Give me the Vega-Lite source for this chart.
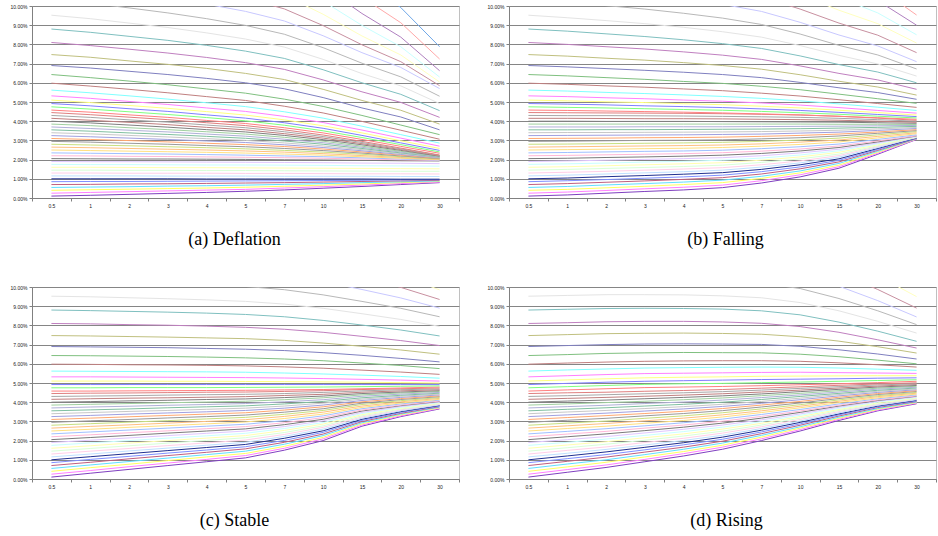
{
"$schema":"https://vega.github.io/schema/vega-lite/v6.json",
"background":"white",
"padding":{"left":9,"top":3,"right":0,"bottom":0},
"config":{
"view":{"stroke":"#c0c0c0","strokeWidth":1},
"axis":{"labelFont":"Liberation Sans","labelFontSize":5,"labelColor":"#222222","domainColor":"#808080","tickColor":"#808080","tickSize":3},
"title":{"font":"Liberation Serif","fontSize":18,"fontWeight":"normal","color":"#000000","orient":"bottom","offset":23},
"range":{"category":["#8040c0","#ff80ff","#ffff60","#60e0ff","#c06080","#8090ff","#203090","#c0e0ff","#ffd0e8","#d8ffd8","#ffffb0","#c8ffff","#e0c8ff","#7a7a7a","#ffb8d8","#a0c0ff","#ffe080","#ffc080","#c8e080","#9a9a9a","#ffa870","#a0a0e0","#c8c8c8","#80c0a0","#b0b0d8","#a0d0a0","#808080","#c08080","#a8a8a8","#e08080","#ff8080","#80ff80","#8080ff","#ffff80","#ff80ff","#80ffff","#c08080","#80c080","#8080c0","#c0c080","#c080c0","#80c0c0","#e4e4e4","#b8b8b8","#c8c8ff","#c890a0","#ffffc0","#c8ffff","#b080c0","#ffa8a8","#70a8e8"]}
},
"data":{"values":[
{"p":"a","s":0,"t00":0.10,"t01":0.14,"t02":0.19,"t03":0.24,"t04":0.29,"t05":0.35,"t06":0.42,"t07":0.51,"t08":0.60,"t09":0.70,"t10":0.80},
{"p":"a","s":1,"t00":0.25,"t01":0.29,"t02":0.33,"t03":0.37,"t04":0.41,"t05":0.45,"t06":0.52,"t07":0.59,"t08":0.67,"t09":0.75,"t10":0.83},
{"p":"a","s":2,"t00":0.40,"t01":0.43,"t02":0.46,"t03":0.49,"t04":0.52,"t05":0.56,"t06":0.61,"t07":0.67,"t08":0.73,"t09":0.80,"t10":0.86},
{"p":"a","s":3,"t00":0.55,"t01":0.57,"t02":0.59,"t03":0.62,"t04":0.64,"t05":0.67,"t06":0.71,"t07":0.75,"t08":0.80,"t09":0.84,"t10":0.89},
{"p":"a","s":4,"t00":0.70,"t01":0.71,"t02":0.73,"t03":0.74,"t04":0.76,"t05":0.78,"t06":0.80,"t07":0.83,"t08":0.86,"t09":0.89,"t10":0.92},
{"p":"a","s":5,"t00":0.85,"t01":0.86,"t02":0.86,"t03":0.87,"t04":0.88,"t05":0.89,"t06":0.90,"t07":0.91,"t08":0.92,"t09":0.94,"t10":0.95},
{"p":"a","s":6,"t00":1.00,"t01":1.00,"t02":1.00,"t03":1.00,"t04":0.99,"t05":0.99,"t06":0.99,"t07":0.99,"t08":0.99,"t09":0.98,"t10":0.98},
{"p":"a","s":7,"t00":1.15,"t01":1.15,"t02":1.15,"t03":1.14,"t04":1.14,"t05":1.14,"t06":1.13,"t07":1.13,"t08":1.13,"t09":1.12,"t10":1.12},
{"p":"a","s":8,"t00":1.30,"t01":1.30,"t02":1.29,"t03":1.29,"t04":1.29,"t05":1.28,"t06":1.28,"t07":1.27,"t08":1.26,"t09":1.26,"t10":1.25},
{"p":"a","s":9,"t00":1.45,"t01":1.45,"t02":1.44,"t03":1.44,"t04":1.43,"t05":1.43,"t06":1.42,"t07":1.41,"t08":1.40,"t09":1.39,"t10":1.39},
{"p":"a","s":10,"t00":1.60,"t01":1.60,"t02":1.59,"t03":1.58,"t04":1.58,"t05":1.57,"t06":1.56,"t07":1.55,"t08":1.54,"t09":1.53,"t10":1.52},
{"p":"a","s":11,"t00":1.75,"t01":1.74,"t02":1.74,"t03":1.73,"t04":1.72,"t05":1.72,"t06":1.71,"t07":1.70,"t08":1.68,"t09":1.67,"t10":1.66},
{"p":"a","s":12,"t00":1.90,"t01":1.89,"t02":1.89,"t03":1.88,"t04":1.87,"t05":1.86,"t06":1.85,"t07":1.84,"t08":1.82,"t09":1.81,"t10":1.79},
{"p":"a","s":13,"t00":2.05,"t01":2.04,"t02":2.03,"t03":2.03,"t04":2.02,"t05":2.01,"t06":1.99,"t07":1.98,"t08":1.96,"t09":1.94,"t10":1.93},
{"p":"a","s":14,"t00":2.20,"t01":2.19,"t02":2.17,"t03":2.16,"t04":2.14,"t05":2.12,"t06":2.10,"t07":2.07,"t08":2.03,"t09":1.99,"t10":1.95},
{"p":"a","s":15,"t00":2.35,"t01":2.33,"t02":2.31,"t03":2.29,"t04":2.26,"t05":2.23,"t06":2.19,"t07":2.15,"t08":2.09,"t09":2.03,"t10":1.97},
{"p":"a","s":16,"t00":2.50,"t01":2.47,"t02":2.44,"t03":2.41,"t04":2.38,"t05":2.34,"t06":2.29,"t07":2.23,"t08":2.15,"t09":2.07,"t10":1.99},
{"p":"a","s":17,"t00":2.65,"t01":2.62,"t02":2.58,"t03":2.54,"t04":2.50,"t05":2.45,"t06":2.39,"t07":2.31,"t08":2.21,"t09":2.11,"t10":2.01},
{"p":"a","s":18,"t00":2.80,"t01":2.76,"t02":2.72,"t03":2.67,"t04":2.62,"t05":2.56,"t06":2.48,"t07":2.39,"t08":2.28,"t09":2.15,"t10":2.03},
{"p":"a","s":19,"t00":2.95,"t01":2.91,"t02":2.85,"t03":2.80,"t04":2.73,"t05":2.67,"t06":2.58,"t07":2.47,"t08":2.34,"t09":2.19,"t10":2.05},
{"p":"a","s":20,"t00":3.10,"t01":3.05,"t02":2.99,"t03":2.92,"t04":2.85,"t05":2.78,"t06":2.68,"t07":2.55,"t08":2.40,"t09":2.23,"t10":2.07},
{"p":"a","s":21,"t00":3.25,"t01":3.19,"t02":3.12,"t03":3.05,"t04":2.97,"t05":2.89,"t06":2.77,"t07":2.63,"t08":2.46,"t09":2.27,"t10":2.09},
{"p":"a","s":22,"t00":3.40,"t01":3.34,"t02":3.26,"t03":3.18,"t04":3.09,"t05":3.00,"t06":2.87,"t07":2.71,"t08":2.52,"t09":2.31,"t10":2.11},
{"p":"a","s":23,"t00":3.55,"t01":3.48,"t02":3.39,"t03":3.31,"t04":3.21,"t05":3.11,"t06":2.97,"t07":2.80,"t08":2.58,"t09":2.35,"t10":2.13},
{"p":"a","s":24,"t00":3.70,"t01":3.62,"t02":3.53,"t03":3.44,"t04":3.33,"t05":3.22,"t06":3.06,"t07":2.88,"t08":2.64,"t09":2.39,"t10":2.15},
{"p":"a","s":25,"t00":3.85,"t01":3.77,"t02":3.66,"t03":3.56,"t04":3.45,"t05":3.33,"t06":3.16,"t07":2.96,"t08":2.70,"t09":2.43,"t10":2.17},
{"p":"a","s":26,"t00":4.00,"t01":3.91,"t02":3.80,"t03":3.69,"t04":3.56,"t05":3.44,"t06":3.26,"t07":3.04,"t08":2.77,"t09":2.48,"t10":2.18},
{"p":"a","s":27,"t00":4.15,"t01":4.05,"t02":3.94,"t03":3.82,"t04":3.68,"t05":3.55,"t06":3.35,"t07":3.12,"t08":2.83,"t09":2.52,"t10":2.20},
{"p":"a","s":28,"t00":4.30,"t01":4.20,"t02":4.07,"t03":3.95,"t04":3.80,"t05":3.66,"t06":3.45,"t07":3.20,"t08":2.89,"t09":2.56,"t10":2.22},
{"p":"a","s":29,"t00":4.45,"t01":4.34,"t02":4.21,"t03":4.08,"t04":3.92,"t05":3.77,"t06":3.55,"t07":3.28,"t08":2.95,"t09":2.60,"t10":2.24},
{"p":"a","s":30,"t00":4.58,"t01":4.47,"t02":4.33,"t03":4.20,"t04":4.04,"t05":3.88,"t06":3.66,"t07":3.39,"t08":3.05,"t09":2.69,"t10":2.33},
{"p":"a","s":31,"t00":4.75,"t01":4.63,"t02":4.49,"t03":4.35,"t04":4.19,"t05":4.02,"t06":3.79,"t07":3.50,"t08":3.15,"t09":2.78,"t10":2.40},
{"p":"a","s":32,"t00":4.92,"t01":4.80,"t02":4.65,"t03":4.51,"t04":4.33,"t05":4.16,"t06":3.92,"t07":3.63,"t08":3.26,"t09":2.87,"t10":2.48},
{"p":"a","s":33,"t00":5.10,"t01":4.97,"t02":4.82,"t03":4.67,"t04":4.50,"t05":4.32,"t06":4.07,"t07":3.76,"t08":3.39,"t09":2.98,"t10":2.58},
{"p":"a","s":34,"t00":5.32,"t01":5.19,"t02":5.03,"t03":4.87,"t04":4.69,"t05":4.51,"t06":4.25,"t07":3.93,"t08":3.54,"t09":3.12,"t10":2.70},
{"p":"a","s":35,"t00":5.62,"t01":5.48,"t02":5.32,"t03":5.15,"t04":4.96,"t05":4.76,"t06":4.49,"t07":4.16,"t08":3.74,"t09":3.30,"t10":2.86},
{"p":"a","s":36,"t00":5.98,"t01":5.83,"t02":5.66,"t03":5.48,"t04":5.28,"t05":5.08,"t06":4.78,"t07":4.43,"t08":3.99,"t09":3.53,"t10":3.06},
{"p":"a","s":37,"t00":6.43,"t01":6.27,"t02":6.09,"t03":5.90,"t04":5.68,"t05":5.46,"t06":5.15,"t07":4.77,"t08":4.30,"t09":3.80,"t10":3.30},
{"p":"a","s":38,"t00":6.90,"t01":6.77,"t02":6.60,"t03":6.43,"t04":6.23,"t05":6.00,"t06":5.69,"t07":5.23,"t08":4.69,"t09":4.22,"t10":3.55},
{"p":"a","s":39,"t00":7.47,"t01":7.33,"t02":7.14,"t03":6.96,"t04":6.75,"t05":6.49,"t06":6.17,"t07":5.66,"t08":5.08,"t09":4.57,"t10":3.85},
{"p":"a","s":40,"t00":8.10,"t01":7.94,"t02":7.75,"t03":7.55,"t04":7.32,"t05":7.05,"t06":6.70,"t07":6.15,"t08":5.53,"t09":4.98,"t10":4.20},
{"p":"a","s":41,"t00":8.80,"t01":8.63,"t02":8.42,"t03":8.21,"t04":7.95,"t05":7.65,"t06":7.27,"t07":6.68,"t08":6.00,"t09":5.40,"t10":4.55},
{"p":"a","s":42,"t00":9.52,"t01":9.34,"t02":9.11,"t03":8.88,"t04":8.60,"t05":8.28,"t06":7.86,"t07":7.22,"t08":6.48,"t09":5.84,"t10":4.92},
{"p":"a","s":43,"t00":10.35,"t01":10.15,"t02":9.90,"t03":9.64,"t04":9.34,"t05":8.99,"t06":8.53,"t07":7.83,"t08":7.02,"t09":6.31,"t10":5.30},
{"p":"a","s":44,"t00":11.20,"t01":10.98,"t02":10.71,"t03":10.43,"t04":10.10,"t05":9.72,"t06":9.22,"t07":8.45,"t08":7.57,"t09":6.80,"t10":5.70},
{"p":"a","s":45,"t00":12.10,"t01":11.85,"t02":11.54,"t03":11.23,"t04":10.85,"t05":10.41,"t06":9.85,"t07":8.98,"t08":7.98,"t09":7.10,"t10":5.85},
{"p":"a","s":46,"t00":13.10,"t01":12.82,"t02":12.46,"t03":12.11,"t04":11.69,"t05":11.19,"t06":10.56,"t07":9.57,"t08":8.44,"t09":7.45,"t10":6.04},
{"p":"a","s":47,"t00":14.20,"t01":13.88,"t02":13.49,"t03":13.09,"t04":12.62,"t05":12.07,"t06":11.36,"t07":10.25,"t08":8.99,"t09":7.88,"t10":6.30},
{"p":"a","s":48,"t00":15.40,"t01":15.05,"t02":14.61,"t03":14.17,"t04":13.65,"t05":13.03,"t06":12.24,"t07":11.02,"t08":9.61,"t09":8.38,"t10":6.63},
{"p":"a","s":49,"t00":16.70,"t01":16.32,"t02":15.85,"t03":15.38,"t04":14.81,"t05":14.15,"t06":13.29,"t07":11.97,"t08":10.46,"t09":9.13,"t10":7.24},
{"p":"a","s":50,"t00":18.10,"t01":17.69,"t02":17.18,"t03":16.67,"t04":16.06,"t05":15.34,"t06":14.42,"t07":12.99,"t08":11.36,"t09":9.92,"t10":7.88},
{"p":"b","s":0,"t00":0.10,"t01":0.16,"t02":0.25,"t03":0.34,"t04":0.42,"t05":0.54,"t06":0.78,"t07":1.10,"t08":1.55,"t09":2.28,"t10":3.05},
{"p":"b","s":1,"t00":0.25,"t01":0.31,"t02":0.39,"t03":0.48,"t04":0.56,"t05":0.67,"t06":0.90,"t07":1.21,"t08":1.63,"t09":2.33,"t10":3.06},
{"p":"b","s":2,"t00":0.40,"t01":0.45,"t02":0.53,"t03":0.61,"t04":0.70,"t05":0.80,"t06":1.02,"t07":1.31,"t08":1.71,"t09":2.38,"t10":3.08},
{"p":"b","s":3,"t00":0.55,"t01":0.60,"t02":0.68,"t03":0.75,"t04":0.83,"t05":0.93,"t06":1.13,"t07":1.41,"t08":1.80,"t09":2.43,"t10":3.09},
{"p":"b","s":4,"t00":0.70,"t01":0.75,"t02":0.82,"t03":0.89,"t04":0.97,"t05":1.06,"t06":1.25,"t07":1.52,"t08":1.88,"t09":2.48,"t10":3.10},
{"p":"b","s":5,"t00":0.85,"t01":0.90,"t02":0.96,"t03":1.03,"t04":1.10,"t05":1.19,"t06":1.37,"t07":1.62,"t08":1.96,"t09":2.53,"t10":3.12},
{"p":"b","s":6,"t00":1.00,"t01":1.04,"t02":1.11,"t03":1.17,"t04":1.24,"t05":1.32,"t06":1.49,"t07":1.73,"t08":2.04,"t09":2.58,"t10":3.13},
{"p":"b","s":7,"t00":1.15,"t01":1.19,"t02":1.25,"t03":1.31,"t04":1.37,"t05":1.45,"t06":1.61,"t07":1.83,"t08":2.13,"t09":2.63,"t10":3.15},
{"p":"b","s":8,"t00":1.30,"t01":1.34,"t02":1.39,"t03":1.45,"t04":1.51,"t05":1.58,"t06":1.73,"t07":1.93,"t08":2.21,"t09":2.68,"t10":3.16},
{"p":"b","s":9,"t00":1.45,"t01":1.49,"t02":1.54,"t03":1.59,"t04":1.64,"t05":1.71,"t06":1.85,"t07":2.04,"t08":2.29,"t09":2.72,"t10":3.17},
{"p":"b","s":10,"t00":1.60,"t01":1.63,"t02":1.68,"t03":1.73,"t04":1.78,"t05":1.84,"t06":1.97,"t07":2.14,"t08":2.38,"t09":2.77,"t10":3.19},
{"p":"b","s":11,"t00":1.75,"t01":1.78,"t02":1.82,"t03":1.87,"t04":1.91,"t05":1.97,"t06":2.08,"t07":2.24,"t08":2.46,"t09":2.82,"t10":3.20},
{"p":"b","s":12,"t00":1.90,"t01":1.93,"t02":1.97,"t03":2.01,"t04":2.05,"t05":2.10,"t06":2.20,"t07":2.35,"t08":2.54,"t09":2.87,"t10":3.21},
{"p":"b","s":13,"t00":2.05,"t01":2.07,"t02":2.11,"t03":2.14,"t04":2.18,"t05":2.23,"t06":2.32,"t07":2.45,"t08":2.63,"t09":2.92,"t10":3.23},
{"p":"b","s":14,"t00":2.20,"t01":2.22,"t02":2.25,"t03":2.28,"t04":2.31,"t05":2.36,"t06":2.44,"t07":2.55,"t08":2.71,"t09":2.97,"t10":3.24},
{"p":"b","s":15,"t00":2.35,"t01":2.37,"t02":2.40,"t03":2.43,"t04":2.45,"t05":2.49,"t06":2.57,"t07":2.67,"t08":2.81,"t09":3.05,"t10":3.29},
{"p":"b","s":16,"t00":2.50,"t01":2.52,"t02":2.54,"t03":2.57,"t04":2.59,"t05":2.63,"t06":2.70,"t07":2.79,"t08":2.92,"t09":3.13,"t10":3.35},
{"p":"b","s":17,"t00":2.65,"t01":2.67,"t02":2.69,"t03":2.71,"t04":2.73,"t05":2.76,"t06":2.82,"t07":2.91,"t08":3.02,"t09":3.21,"t10":3.40},
{"p":"b","s":18,"t00":2.80,"t01":2.81,"t02":2.83,"t03":2.85,"t04":2.87,"t05":2.90,"t06":2.95,"t07":3.02,"t08":3.12,"t09":3.29,"t10":3.46},
{"p":"b","s":19,"t00":2.95,"t01":2.96,"t02":2.98,"t03":3.00,"t04":3.01,"t05":3.03,"t06":3.08,"t07":3.14,"t08":3.23,"t09":3.37,"t10":3.51},
{"p":"b","s":20,"t00":3.10,"t01":3.11,"t02":3.12,"t03":3.14,"t04":3.15,"t05":3.17,"t06":3.21,"t07":3.26,"t08":3.33,"t09":3.44,"t10":3.56},
{"p":"b","s":21,"t00":3.25,"t01":3.26,"t02":3.27,"t03":3.28,"t04":3.29,"t05":3.31,"t06":3.33,"t07":3.38,"t08":3.43,"t09":3.52,"t10":3.62},
{"p":"b","s":22,"t00":3.40,"t01":3.41,"t02":3.41,"t03":3.42,"t04":3.43,"t05":3.44,"t06":3.46,"t07":3.49,"t08":3.53,"t09":3.60,"t10":3.67},
{"p":"b","s":23,"t00":3.55,"t01":3.55,"t02":3.56,"t03":3.56,"t04":3.57,"t05":3.58,"t06":3.59,"t07":3.61,"t08":3.64,"t09":3.68,"t10":3.73},
{"p":"b","s":24,"t00":3.70,"t01":3.70,"t02":3.70,"t03":3.71,"t04":3.71,"t05":3.71,"t06":3.72,"t07":3.73,"t08":3.74,"t09":3.76,"t10":3.78},
{"p":"b","s":25,"t00":3.85,"t01":3.85,"t02":3.85,"t03":3.85,"t04":3.85,"t05":3.85,"t06":3.85,"t07":3.85,"t08":3.84,"t09":3.84,"t10":3.83},
{"p":"b","s":26,"t00":4.00,"t01":4.00,"t02":3.99,"t03":3.99,"t04":3.99,"t05":3.98,"t06":3.97,"t07":3.96,"t08":3.95,"t09":3.92,"t10":3.89},
{"p":"b","s":27,"t00":4.15,"t01":4.15,"t02":4.14,"t03":4.13,"t04":4.13,"t05":4.12,"t06":4.10,"t07":4.08,"t08":4.05,"t09":4.00,"t10":3.94},
{"p":"b","s":28,"t00":4.30,"t01":4.29,"t02":4.29,"t03":4.28,"t04":4.27,"t05":4.25,"t06":4.23,"t07":4.20,"t08":4.15,"t09":4.08,"t10":4.00},
{"p":"b","s":29,"t00":4.45,"t01":4.44,"t02":4.43,"t03":4.42,"t04":4.41,"t05":4.39,"t06":4.36,"t07":4.32,"t08":4.26,"t09":4.16,"t10":4.05},
{"p":"b","s":30,"t00":4.58,"t01":4.56,"t02":4.53,"t03":4.50,"t04":4.47,"t05":4.43,"t06":4.38,"t07":4.33,"t08":4.25,"t09":4.18,"t10":4.10},
{"p":"b","s":31,"t00":4.75,"t01":4.72,"t02":4.69,"t03":4.65,"t04":4.61,"t05":4.57,"t06":4.51,"t07":4.44,"t08":4.36,"t09":4.26,"t10":4.17},
{"p":"b","s":32,"t00":4.92,"t01":4.89,"t02":4.85,"t03":4.80,"t04":4.76,"t05":4.71,"t06":4.64,"t07":4.56,"t08":4.46,"t09":4.35,"t10":4.24},
{"p":"b","s":33,"t00":5.10,"t01":5.06,"t02":5.01,"t03":4.97,"t04":4.91,"t05":4.86,"t06":4.78,"t07":4.69,"t08":4.57,"t09":4.45,"t10":4.32},
{"p":"b","s":34,"t00":5.32,"t01":5.28,"t02":5.22,"t03":5.17,"t04":5.10,"t05":5.04,"t06":4.95,"t07":4.84,"t08":4.71,"t09":4.56,"t10":4.42},
{"p":"b","s":35,"t00":5.62,"t01":5.57,"t02":5.50,"t03":5.44,"t04":5.37,"t05":5.29,"t06":5.19,"t07":5.06,"t08":4.90,"t09":4.73,"t10":4.56},
{"p":"b","s":36,"t00":5.98,"t01":5.92,"t02":5.84,"t03":5.77,"t04":5.68,"t05":5.59,"t06":5.46,"t07":5.31,"t08":5.12,"t09":4.92,"t10":4.72},
{"p":"b","s":37,"t00":6.43,"t01":6.36,"t02":6.27,"t03":6.18,"t04":6.07,"t05":5.97,"t06":5.82,"t07":5.64,"t08":5.41,"t09":5.17,"t10":4.93},
{"p":"b","s":38,"t00":6.90,"t01":6.83,"t02":6.74,"t03":6.65,"t04":6.55,"t05":6.43,"t06":6.27,"t07":6.02,"t08":5.74,"t09":5.49,"t10":5.14},
{"p":"b","s":39,"t00":7.47,"t01":7.39,"t02":7.28,"t03":7.18,"t04":7.05,"t05":6.90,"t06":6.71,"t07":6.42,"t08":6.08,"t09":5.78,"t10":5.36},
{"p":"b","s":40,"t00":8.10,"t01":8.00,"t02":7.88,"t03":7.76,"t04":7.61,"t05":7.44,"t06":7.22,"t07":6.88,"t08":6.49,"t09":6.15,"t10":5.66},
{"p":"b","s":41,"t00":8.80,"t01":8.69,"t02":8.55,"t03":8.41,"t04":8.24,"t05":8.04,"t06":7.79,"t07":7.40,"t08":6.95,"t09":6.56,"t10":6.00},
{"p":"b","s":42,"t00":9.52,"t01":9.39,"t02":9.24,"t03":9.08,"t04":8.89,"t05":8.66,"t06":8.38,"t07":7.94,"t08":7.43,"t09":6.98,"t10":6.35},
{"p":"b","s":43,"t00":10.35,"t01":10.21,"t02":10.02,"t03":9.84,"t04":9.62,"t05":9.37,"t06":9.04,"t07":8.54,"t08":7.95,"t09":7.45,"t10":6.72},
{"p":"b","s":44,"t00":11.20,"t01":11.04,"t02":10.83,"t03":10.63,"t04":10.38,"t05":10.09,"t06":9.72,"t07":9.15,"t08":8.49,"t09":7.92,"t10":7.10},
{"p":"b","s":45,"t00":12.10,"t01":11.92,"t02":11.69,"t03":11.47,"t04":11.19,"t05":10.88,"t06":10.47,"t07":9.84,"t08":9.11,"t09":8.48,"t10":7.57},
{"p":"b","s":46,"t00":13.10,"t01":12.90,"t02":12.65,"t03":12.40,"t04":12.09,"t05":11.74,"t06":11.29,"t07":10.59,"t08":9.78,"t09":9.08,"t10":8.07},
{"p":"b","s":47,"t00":14.20,"t01":13.97,"t02":13.69,"t03":13.40,"t04":13.06,"t05":12.66,"t06":12.15,"t07":11.35,"t08":10.44,"t09":9.64,"t10":8.50},
{"p":"b","s":48,"t00":15.40,"t01":15.14,"t02":14.82,"t03":14.50,"t04":14.12,"t05":13.67,"t06":13.10,"t07":12.20,"t08":11.18,"t09":10.28,"t10":9.00},
{"p":"b","s":49,"t00":16.70,"t01":16.41,"t02":16.06,"t03":15.70,"t04":15.27,"t05":14.76,"t06":14.12,"t07":13.12,"t08":11.97,"t09":10.96,"t10":9.53},
{"p":"c","s":0,"t00":0.10,"t01":0.30,"t02":0.50,"t03":0.70,"t04":0.90,"t05":1.10,"t06":1.50,"t07":2.00,"t08":2.75,"t09":3.25,"t10":3.65},
{"p":"c","s":1,"t00":0.25,"t01":0.44,"t02":0.64,"t03":0.83,"t04":1.02,"t05":1.22,"t06":1.60,"t07":2.09,"t08":2.81,"t09":3.29,"t10":3.68},
{"p":"c","s":2,"t00":0.40,"t01":0.59,"t02":0.77,"t03":0.96,"t04":1.15,"t05":1.33,"t06":1.70,"t07":2.17,"t08":2.87,"t09":3.34,"t10":3.71},
{"p":"c","s":3,"t00":0.55,"t01":0.73,"t02":0.91,"t03":1.09,"t04":1.27,"t05":1.45,"t06":1.81,"t07":2.26,"t08":2.93,"t09":3.38,"t10":3.74},
{"p":"c","s":4,"t00":0.70,"t01":0.87,"t02":1.05,"t03":1.22,"t04":1.39,"t05":1.57,"t06":1.91,"t07":2.34,"t08":2.99,"t09":3.42,"t10":3.77},
{"p":"c","s":5,"t00":0.85,"t01":1.02,"t02":1.18,"t03":1.35,"t04":1.51,"t05":1.68,"t06":2.01,"t07":2.43,"t08":3.05,"t09":3.47,"t10":3.80},
{"p":"c","s":6,"t00":1.00,"t01":1.16,"t02":1.32,"t03":1.48,"t04":1.64,"t05":1.80,"t06":2.12,"t07":2.51,"t08":3.11,"t09":3.51,"t10":3.83},
{"p":"c","s":7,"t00":1.15,"t01":1.30,"t02":1.46,"t03":1.61,"t04":1.76,"t05":1.91,"t06":2.22,"t07":2.60,"t08":3.17,"t09":3.55,"t10":3.86},
{"p":"c","s":8,"t00":1.30,"t01":1.45,"t02":1.59,"t03":1.74,"t04":1.88,"t05":2.03,"t06":2.32,"t07":2.69,"t08":3.23,"t09":3.60,"t10":3.89},
{"p":"c","s":9,"t00":1.45,"t01":1.59,"t02":1.73,"t03":1.87,"t04":2.01,"t05":2.15,"t06":2.42,"t07":2.77,"t08":3.29,"t09":3.64,"t10":3.92},
{"p":"c","s":10,"t00":1.60,"t01":1.73,"t02":1.87,"t03":2.00,"t04":2.13,"t05":2.26,"t06":2.53,"t07":2.86,"t08":3.35,"t09":3.69,"t10":3.95},
{"p":"c","s":11,"t00":1.75,"t01":1.88,"t02":2.00,"t03":2.13,"t04":2.25,"t05":2.38,"t06":2.63,"t07":2.94,"t08":3.41,"t09":3.73,"t10":3.98},
{"p":"c","s":12,"t00":1.90,"t01":2.02,"t02":2.14,"t03":2.26,"t04":2.38,"t05":2.50,"t06":2.73,"t07":3.03,"t08":3.47,"t09":3.77,"t10":4.01},
{"p":"c","s":13,"t00":2.05,"t01":2.16,"t02":2.27,"t03":2.39,"t04":2.50,"t05":2.61,"t06":2.83,"t07":3.11,"t08":3.54,"t09":3.82,"t10":4.04},
{"p":"c","s":14,"t00":2.20,"t01":2.30,"t02":2.41,"t03":2.51,"t04":2.62,"t05":2.73,"t06":2.93,"t07":3.20,"t08":3.59,"t09":3.85,"t10":4.06},
{"p":"c","s":15,"t00":2.35,"t01":2.45,"t02":2.55,"t03":2.65,"t04":2.75,"t05":2.85,"t06":3.04,"t07":3.29,"t08":3.66,"t09":3.91,"t10":4.11},
{"p":"c","s":16,"t00":2.50,"t01":2.59,"t02":2.69,"t03":2.78,"t04":2.87,"t05":2.97,"t06":3.15,"t07":3.38,"t08":3.73,"t09":3.96,"t10":4.15},
{"p":"c","s":17,"t00":2.65,"t01":2.74,"t02":2.82,"t03":2.91,"t04":3.00,"t05":3.09,"t06":3.26,"t07":3.48,"t08":3.80,"t09":4.02,"t10":4.20},
{"p":"c","s":18,"t00":2.80,"t01":2.88,"t02":2.96,"t03":3.04,"t04":3.13,"t05":3.21,"t06":3.37,"t07":3.57,"t08":3.88,"t09":4.08,"t10":4.24},
{"p":"c","s":19,"t00":2.95,"t01":3.03,"t02":3.10,"t03":3.18,"t04":3.25,"t05":3.33,"t06":3.48,"t07":3.66,"t08":3.95,"t09":4.14,"t10":4.29},
{"p":"c","s":20,"t00":3.10,"t01":3.17,"t02":3.24,"t03":3.31,"t04":3.38,"t05":3.45,"t06":3.59,"t07":3.76,"t08":4.02,"t09":4.19,"t10":4.33},
{"p":"c","s":21,"t00":3.25,"t01":3.31,"t02":3.38,"t03":3.44,"t04":3.50,"t05":3.57,"t06":3.69,"t07":3.85,"t08":4.09,"t09":4.25,"t10":4.38},
{"p":"c","s":22,"t00":3.40,"t01":3.46,"t02":3.52,"t03":3.57,"t04":3.63,"t05":3.69,"t06":3.80,"t07":3.95,"t08":4.16,"t09":4.31,"t10":4.42},
{"p":"c","s":23,"t00":3.55,"t01":3.60,"t02":3.65,"t03":3.71,"t04":3.76,"t05":3.81,"t06":3.91,"t07":4.04,"t08":4.23,"t09":4.36,"t10":4.47},
{"p":"c","s":24,"t00":3.70,"t01":3.75,"t02":3.79,"t03":3.84,"t04":3.88,"t05":3.93,"t06":4.02,"t07":4.13,"t08":4.31,"t09":4.42,"t10":4.51},
{"p":"c","s":25,"t00":3.85,"t01":3.89,"t02":3.93,"t03":3.97,"t04":4.01,"t05":4.05,"t06":4.13,"t07":4.23,"t08":4.38,"t09":4.48,"t10":4.56},
{"p":"c","s":26,"t00":4.00,"t01":4.03,"t02":4.07,"t03":4.10,"t04":4.14,"t05":4.17,"t06":4.24,"t07":4.32,"t08":4.45,"t09":4.53,"t10":4.60},
{"p":"c","s":27,"t00":4.15,"t01":4.18,"t02":4.21,"t03":4.23,"t04":4.26,"t05":4.29,"t06":4.35,"t07":4.41,"t08":4.52,"t09":4.59,"t10":4.65},
{"p":"c","s":28,"t00":4.30,"t01":4.32,"t02":4.34,"t03":4.37,"t04":4.39,"t05":4.41,"t06":4.45,"t07":4.51,"t08":4.59,"t09":4.65,"t10":4.69},
{"p":"c","s":29,"t00":4.45,"t01":4.47,"t02":4.48,"t03":4.50,"t04":4.52,"t05":4.53,"t06":4.56,"t07":4.60,"t08":4.66,"t09":4.70,"t10":4.74},
{"p":"c","s":30,"t00":4.58,"t01":4.58,"t02":4.59,"t03":4.60,"t04":4.61,"t05":4.62,"t06":4.64,"t07":4.66,"t08":4.70,"t09":4.74,"t10":4.79},
{"p":"c","s":31,"t00":4.75,"t01":4.75,"t02":4.76,"t03":4.76,"t04":4.76,"t05":4.77,"t06":4.78,"t07":4.79,"t08":4.81,"t09":4.83,"t10":4.85},
{"p":"c","s":32,"t00":4.92,"t01":4.92,"t02":4.92,"t03":4.92,"t04":4.92,"t05":4.92,"t06":4.92,"t07":4.92,"t08":4.92,"t09":4.92,"t10":4.92},
{"p":"c","s":33,"t00":5.10,"t01":5.10,"t02":5.10,"t03":5.09,"t04":5.09,"t05":5.08,"t06":5.07,"t07":5.06,"t08":5.04,"t09":5.02,"t10":5.00},
{"p":"c","s":34,"t00":5.32,"t01":5.32,"t02":5.31,"t03":5.30,"t04":5.29,"t05":5.28,"t06":5.26,"t07":5.23,"t08":5.19,"t09":5.15,"t10":5.10},
{"p":"c","s":35,"t00":5.62,"t01":5.61,"t02":5.60,"t03":5.59,"t04":5.58,"t05":5.56,"t06":5.52,"t07":5.47,"t08":5.41,"t09":5.34,"t10":5.25},
{"p":"c","s":36,"t00":5.98,"t01":5.97,"t02":5.95,"t03":5.94,"t04":5.92,"t05":5.89,"t06":5.84,"t07":5.77,"t08":5.67,"t09":5.57,"t10":5.45},
{"p":"c","s":37,"t00":6.43,"t01":6.42,"t02":6.40,"t03":6.38,"t04":6.35,"t05":6.31,"t06":6.25,"t07":6.16,"t08":6.04,"t09":5.91,"t10":5.75},
{"p":"c","s":38,"t00":6.90,"t01":6.88,"t02":6.86,"t03":6.84,"t04":6.80,"t05":6.76,"t06":6.69,"t07":6.58,"t08":6.44,"t09":6.28,"t10":6.10},
{"p":"c","s":39,"t00":7.47,"t01":7.45,"t02":7.42,"t03":7.39,"t04":7.35,"t05":7.31,"t06":7.22,"t07":7.08,"t08":6.91,"t09":6.72,"t10":6.50},
{"p":"c","s":40,"t00":8.10,"t01":8.08,"t02":8.04,"t03":8.01,"t04":7.96,"t05":7.90,"t06":7.80,"t07":7.64,"t08":7.43,"t09":7.21,"t10":6.95},
{"p":"c","s":41,"t00":8.80,"t01":8.77,"t02":8.73,"t03":8.69,"t04":8.64,"t05":8.57,"t06":8.45,"t07":8.26,"t08":8.02,"t09":7.76,"t10":7.45},
{"p":"c","s":42,"t00":9.52,"t01":9.49,"t02":9.44,"t03":9.39,"t04":9.33,"t05":9.25,"t06":9.11,"t07":8.89,"t08":8.61,"t09":8.31,"t10":7.95},
{"p":"c","s":43,"t00":10.35,"t01":10.31,"t02":10.26,"t03":10.20,"t04":10.12,"t05":10.03,"t06":9.86,"t07":9.59,"t08":9.25,"t09":8.89,"t10":8.45},
{"p":"c","s":44,"t00":11.20,"t01":11.15,"t02":11.09,"t03":11.02,"t04":10.92,"t05":10.81,"t06":10.60,"t07":10.28,"t08":9.87,"t09":9.43,"t10":8.90},
{"p":"c","s":45,"t00":12.10,"t01":12.05,"t02":11.96,"t03":11.88,"t04":11.77,"t05":11.63,"t06":11.39,"t07":11.00,"t08":10.51,"t09":9.98,"t10":9.35},
{"p":"c","s":46,"t00":13.10,"t01":13.04,"t02":12.94,"t03":12.84,"t04":12.71,"t05":12.55,"t06":12.26,"t07":11.80,"t08":11.22,"t09":10.60,"t10":9.85},
{"p":"d","s":0,"t00":0.10,"t01":0.35,"t02":0.60,"t03":0.90,"t04":1.20,"t05":1.55,"t06":2.00,"t07":2.50,"t08":3.05,"t09":3.55,"t10":3.92},
{"p":"d","s":1,"t00":0.25,"t01":0.49,"t02":0.73,"t03":1.02,"t04":1.32,"t05":1.66,"t06":2.09,"t07":2.57,"t08":3.11,"t09":3.59,"t10":3.95},
{"p":"d","s":2,"t00":0.40,"t01":0.63,"t02":0.87,"t03":1.15,"t04":1.43,"t05":1.76,"t06":2.18,"t07":2.65,"t08":3.16,"t09":3.63,"t10":3.98},
{"p":"d","s":3,"t00":0.55,"t01":0.78,"t02":1.00,"t03":1.27,"t04":1.55,"t05":1.87,"t06":2.27,"t07":2.72,"t08":3.22,"t09":3.67,"t10":4.01},
{"p":"d","s":4,"t00":0.70,"t01":0.92,"t02":1.14,"t03":1.40,"t04":1.66,"t05":1.97,"t06":2.36,"t07":2.80,"t08":3.28,"t09":3.72,"t10":4.04},
{"p":"d","s":5,"t00":0.85,"t01":1.06,"t02":1.27,"t03":1.52,"t04":1.78,"t05":2.07,"t06":2.45,"t07":2.87,"t08":3.34,"t09":3.76,"t10":4.07},
{"p":"d","s":6,"t00":1.00,"t01":1.20,"t02":1.41,"t03":1.65,"t04":1.89,"t05":2.18,"t06":2.54,"t07":2.95,"t08":3.39,"t09":3.80,"t10":4.10},
{"p":"d","s":7,"t00":1.15,"t01":1.34,"t02":1.54,"t03":1.77,"t04":2.01,"t05":2.28,"t06":2.63,"t07":3.02,"t08":3.45,"t09":3.84,"t10":4.13},
{"p":"d","s":8,"t00":1.30,"t01":1.49,"t02":1.67,"t03":1.90,"t04":2.12,"t05":2.39,"t06":2.72,"t07":3.10,"t08":3.51,"t09":3.88,"t10":4.16},
{"p":"d","s":9,"t00":1.45,"t01":1.63,"t02":1.81,"t03":2.02,"t04":2.24,"t05":2.49,"t06":2.81,"t07":3.17,"t08":3.57,"t09":3.92,"t10":4.19},
{"p":"d","s":10,"t00":1.60,"t01":1.77,"t02":1.94,"t03":2.15,"t04":2.35,"t05":2.60,"t06":2.90,"t07":3.25,"t08":3.62,"t09":3.97,"t10":4.22},
{"p":"d","s":11,"t00":1.75,"t01":1.91,"t02":2.08,"t03":2.27,"t04":2.47,"t05":2.70,"t06":2.99,"t07":3.32,"t08":3.68,"t09":4.01,"t10":4.25},
{"p":"d","s":12,"t00":1.90,"t01":2.05,"t02":2.21,"t03":2.40,"t04":2.59,"t05":2.81,"t06":3.08,"t07":3.39,"t08":3.74,"t09":4.05,"t10":4.28},
{"p":"d","s":13,"t00":2.05,"t01":2.20,"t02":2.35,"t03":2.52,"t04":2.70,"t05":2.91,"t06":3.17,"t07":3.47,"t08":3.80,"t09":4.09,"t10":4.31},
{"p":"d","s":14,"t00":2.20,"t01":2.34,"t02":2.48,"t03":2.65,"t04":2.81,"t05":3.01,"t06":3.26,"t07":3.54,"t08":3.84,"t09":4.12,"t10":4.33},
{"p":"d","s":15,"t00":2.35,"t01":2.48,"t02":2.62,"t03":2.77,"t04":2.93,"t05":3.12,"t06":3.36,"t07":3.62,"t08":3.91,"t09":4.18,"t10":4.38},
{"p":"d","s":16,"t00":2.50,"t01":2.63,"t02":2.75,"t03":2.90,"t04":3.05,"t05":3.23,"t06":3.46,"t07":3.71,"t08":3.98,"t09":4.23,"t10":4.42},
{"p":"d","s":17,"t00":2.65,"t01":2.77,"t02":2.89,"t03":3.03,"t04":3.17,"t05":3.34,"t06":3.55,"t07":3.79,"t08":4.05,"t09":4.29,"t10":4.47},
{"p":"d","s":18,"t00":2.80,"t01":2.91,"t02":3.02,"t03":3.16,"t04":3.29,"t05":3.45,"t06":3.65,"t07":3.87,"t08":4.12,"t09":4.34,"t10":4.51},
{"p":"d","s":19,"t00":2.95,"t01":3.06,"t02":3.16,"t03":3.29,"t04":3.41,"t05":3.56,"t06":3.75,"t07":3.96,"t08":4.19,"t09":4.40,"t10":4.56},
{"p":"d","s":20,"t00":3.10,"t01":3.20,"t02":3.30,"t03":3.41,"t04":3.53,"t05":3.67,"t06":3.85,"t07":4.04,"t08":4.26,"t09":4.45,"t10":4.60},
{"p":"d","s":21,"t00":3.25,"t01":3.34,"t02":3.43,"t03":3.54,"t04":3.65,"t05":3.78,"t06":3.94,"t07":4.13,"t08":4.33,"t09":4.51,"t10":4.65},
{"p":"d","s":22,"t00":3.40,"t01":3.49,"t02":3.57,"t03":3.67,"t04":3.77,"t05":3.89,"t06":4.04,"t07":4.21,"t08":4.40,"t09":4.57,"t10":4.69},
{"p":"d","s":23,"t00":3.55,"t01":3.63,"t02":3.71,"t03":3.80,"t04":3.89,"t05":4.00,"t06":4.14,"t07":4.30,"t08":4.46,"t09":4.62,"t10":4.74},
{"p":"d","s":24,"t00":3.70,"t01":3.77,"t02":3.84,"t03":3.93,"t04":4.01,"t05":4.11,"t06":4.24,"t07":4.38,"t08":4.53,"t09":4.68,"t10":4.78},
{"p":"d","s":25,"t00":3.85,"t01":3.91,"t02":3.98,"t03":4.05,"t04":4.13,"t05":4.22,"t06":4.34,"t07":4.46,"t08":4.60,"t09":4.73,"t10":4.83},
{"p":"d","s":26,"t00":4.00,"t01":4.06,"t02":4.11,"t03":4.18,"t04":4.25,"t05":4.33,"t06":4.43,"t07":4.55,"t08":4.67,"t09":4.79,"t10":4.87},
{"p":"d","s":27,"t00":4.15,"t01":4.20,"t02":4.25,"t03":4.31,"t04":4.37,"t05":4.44,"t06":4.53,"t07":4.63,"t08":4.74,"t09":4.84,"t10":4.92},
{"p":"d","s":28,"t00":4.30,"t01":4.34,"t02":4.39,"t03":4.44,"t04":4.49,"t05":4.55,"t06":4.63,"t07":4.72,"t08":4.81,"t09":4.90,"t10":4.96},
{"p":"d","s":29,"t00":4.45,"t01":4.49,"t02":4.52,"t03":4.57,"t04":4.61,"t05":4.66,"t06":4.73,"t07":4.80,"t08":4.88,"t09":4.95,"t10":5.01},
{"p":"d","s":30,"t00":4.58,"t01":4.64,"t02":4.70,"t03":4.76,"t04":4.79,"t05":4.82,"t06":4.86,"t07":4.91,"t08":4.96,"t09":5.02,"t10":5.09},
{"p":"d","s":31,"t00":4.75,"t01":4.81,"t02":4.87,"t03":4.93,"t04":4.96,"t05":4.98,"t06":5.02,"t07":5.05,"t08":5.09,"t09":5.13,"t10":5.17},
{"p":"d","s":32,"t00":4.92,"t01":4.98,"t02":5.04,"t03":5.09,"t04":5.12,"t05":5.15,"t06":5.18,"t07":5.20,"t08":5.22,"t09":5.25,"t10":5.27},
{"p":"d","s":33,"t00":5.10,"t01":5.16,"t02":5.22,"t03":5.27,"t04":5.30,"t05":5.32,"t06":5.35,"t07":5.36,"t08":5.37,"t09":5.38,"t10":5.38},
{"p":"d","s":34,"t00":5.32,"t01":5.38,"t02":5.44,"t03":5.49,"t04":5.51,"t05":5.53,"t06":5.55,"t07":5.56,"t08":5.54,"t09":5.52,"t10":5.50},
{"p":"d","s":35,"t00":5.62,"t01":5.68,"t02":5.73,"t03":5.78,"t04":5.80,"t05":5.82,"t06":5.83,"t07":5.82,"t08":5.78,"t09":5.72,"t10":5.66},
{"p":"d","s":36,"t00":5.98,"t01":6.04,"t02":6.09,"t03":6.13,"t04":6.15,"t05":6.16,"t06":6.16,"t07":6.13,"t08":6.05,"t09":5.95,"t10":5.83},
{"p":"d","s":37,"t00":6.43,"t01":6.48,"t02":6.54,"t03":6.57,"t04":6.59,"t05":6.58,"t06":6.57,"t07":6.50,"t08":6.37,"t09":6.19,"t10":6.00},
{"p":"d","s":38,"t00":6.90,"t01":6.95,"t02":7.00,"t03":7.03,"t04":7.04,"t05":7.03,"t06":7.01,"t07":6.91,"t08":6.73,"t09":6.51,"t10":6.25},
{"p":"d","s":39,"t00":7.47,"t01":7.52,"t02":7.57,"t03":7.59,"t04":7.60,"t05":7.58,"t06":7.54,"t07":7.41,"t08":7.18,"t09":6.89,"t10":6.56},
{"p":"d","s":40,"t00":8.10,"t01":8.14,"t02":8.19,"t03":8.21,"t04":8.21,"t05":8.18,"t06":8.11,"t07":7.94,"t08":7.64,"t09":7.25,"t10":6.82},
{"p":"d","s":41,"t00":8.80,"t01":8.84,"t02":8.88,"t03":8.89,"t04":8.88,"t05":8.85,"t06":8.76,"t07":8.55,"t08":8.17,"t09":7.70,"t10":7.17},
{"p":"d","s":42,"t00":9.52,"t01":9.56,"t02":9.60,"t03":9.60,"t04":9.59,"t05":9.54,"t06":9.44,"t07":9.19,"t08":8.76,"t09":8.21,"t10":7.60},
{"p":"d","s":43,"t00":10.35,"t01":10.38,"t02":10.42,"t03":10.42,"t04":10.39,"t05":10.34,"t06":10.21,"t07":9.92,"t08":9.40,"t09":8.76,"t10":8.04},
{"p":"d","s":44,"t00":11.20,"t01":11.23,"t02":11.26,"t03":11.25,"t04":11.22,"t05":11.15,"t06":10.99,"t07":10.64,"t08":10.04,"t09":9.29,"t10":8.44},
{"p":"d","s":45,"t00":12.10,"t01":12.13,"t02":12.15,"t03":12.13,"t04":12.09,"t05":12.01,"t06":11.83,"t07":11.43,"t08":10.74,"t09":9.87,"t10":8.90},
{"p":"d","s":46,"t00":13.10,"t01":13.12,"t02":13.14,"t03":13.11,"t04":13.07,"t05":12.97,"t06":12.77,"t07":12.32,"t08":11.55,"t09":10.58,"t10":9.50}
]},
"transform":[{"fold":["t00","t01","t02","t03","t04","t05","t06","t07","t08","t09","t10"],"as":["t","y"]}],
"columns":2,
"spacing":{"row":34,"column":26},
"concat":[
{"width":427,"height":192,"title":{"text":"(a) Deflation","dx":-11},"transform":[{"filter":"datum.p == 'a'"}],
"mark":{"type":"line","strokeWidth":1,"clip":true},
"encoding":{
"x":{"field":"t","type":"nominal","scale":{"type":"band","domain":["t00","t01","t02","t03","t04","t05","t06","t07","t08","t09","t10"],"paddingInner":0,"paddingOuter":0},"axis":{"title":null,"tickBand":"extent","labelAngle":0,"labelPadding":2,"labelExpr":"!isString(datum.value) ? '' : datum.value == 't00' ? '0.5' : datum.value == 't06' ? '7' : datum.value == 't07' ? '10' : datum.value == 't08' ? '15' : datum.value == 't09' ? '20' : datum.value == 't10' ? '30' : replace(datum.value, 't0', '')"}},
"y":{"field":"y","type":"quantitative","scale":{"domain":[0,10],"nice":false,"zero":true},"axis":{"title":null,"values":[0,1,2,3,4,5,6,7,8,9,10],"format":".2f","labelExpr":"datum.label + '%'","grid":true,"gridColor":"#858585","labelPadding":2}},
"color":{"field":"s","type":"nominal","legend":null}}},
{"width":427,"height":192,"title":{"text":"(b) Falling","dx":3},"transform":[{"filter":"datum.p == 'b'"}],
"mark":{"type":"line","strokeWidth":1,"clip":true},
"encoding":{
"x":{"field":"t","type":"nominal","scale":{"type":"band","domain":["t00","t01","t02","t03","t04","t05","t06","t07","t08","t09","t10"],"paddingInner":0,"paddingOuter":0},"axis":{"title":null,"tickBand":"extent","labelAngle":0,"labelPadding":2,"labelExpr":"!isString(datum.value) ? '' : datum.value == 't00' ? '0.5' : datum.value == 't06' ? '7' : datum.value == 't07' ? '10' : datum.value == 't08' ? '15' : datum.value == 't09' ? '20' : datum.value == 't10' ? '30' : replace(datum.value, 't0', '')"}},
"y":{"field":"y","type":"quantitative","scale":{"domain":[0,10],"nice":false,"zero":true},"axis":{"title":null,"values":[0,1,2,3,4,5,6,7,8,9,10],"format":".2f","labelExpr":"datum.label + '%'","grid":true,"gridColor":"#858585","labelPadding":2}},
"color":{"field":"s","type":"nominal","legend":null}}},
{"width":427,"height":192,"title":{"text":"(c) Stable","dx":-11},"transform":[{"filter":"datum.p == 'c'"}],
"mark":{"type":"line","strokeWidth":1,"clip":true},
"encoding":{
"x":{"field":"t","type":"nominal","scale":{"type":"band","domain":["t00","t01","t02","t03","t04","t05","t06","t07","t08","t09","t10"],"paddingInner":0,"paddingOuter":0},"axis":{"title":null,"tickBand":"extent","labelAngle":0,"labelPadding":2,"labelExpr":"!isString(datum.value) ? '' : datum.value == 't00' ? '0.5' : datum.value == 't06' ? '7' : datum.value == 't07' ? '10' : datum.value == 't08' ? '15' : datum.value == 't09' ? '20' : datum.value == 't10' ? '30' : replace(datum.value, 't0', '')"}},
"y":{"field":"y","type":"quantitative","scale":{"domain":[0,10],"nice":false,"zero":true},"axis":{"title":null,"values":[0,1,2,3,4,5,6,7,8,9,10],"format":".2f","labelExpr":"datum.label + '%'","grid":true,"gridColor":"#858585","labelPadding":2}},
"color":{"field":"s","type":"nominal","legend":null}}},
{"width":427,"height":192,"title":{"text":"(d) Rising","dx":4},"transform":[{"filter":"datum.p == 'd'"}],
"mark":{"type":"line","strokeWidth":1,"clip":true},
"encoding":{
"x":{"field":"t","type":"nominal","scale":{"type":"band","domain":["t00","t01","t02","t03","t04","t05","t06","t07","t08","t09","t10"],"paddingInner":0,"paddingOuter":0},"axis":{"title":null,"tickBand":"extent","labelAngle":0,"labelPadding":2,"labelExpr":"!isString(datum.value) ? '' : datum.value == 't00' ? '0.5' : datum.value == 't06' ? '7' : datum.value == 't07' ? '10' : datum.value == 't08' ? '15' : datum.value == 't09' ? '20' : datum.value == 't10' ? '30' : replace(datum.value, 't0', '')"}},
"y":{"field":"y","type":"quantitative","scale":{"domain":[0,10],"nice":false,"zero":true},"axis":{"title":null,"values":[0,1,2,3,4,5,6,7,8,9,10],"format":".2f","labelExpr":"datum.label + '%'","grid":true,"gridColor":"#858585","labelPadding":2}},
"color":{"field":"s","type":"nominal","legend":null}}}
]
}
